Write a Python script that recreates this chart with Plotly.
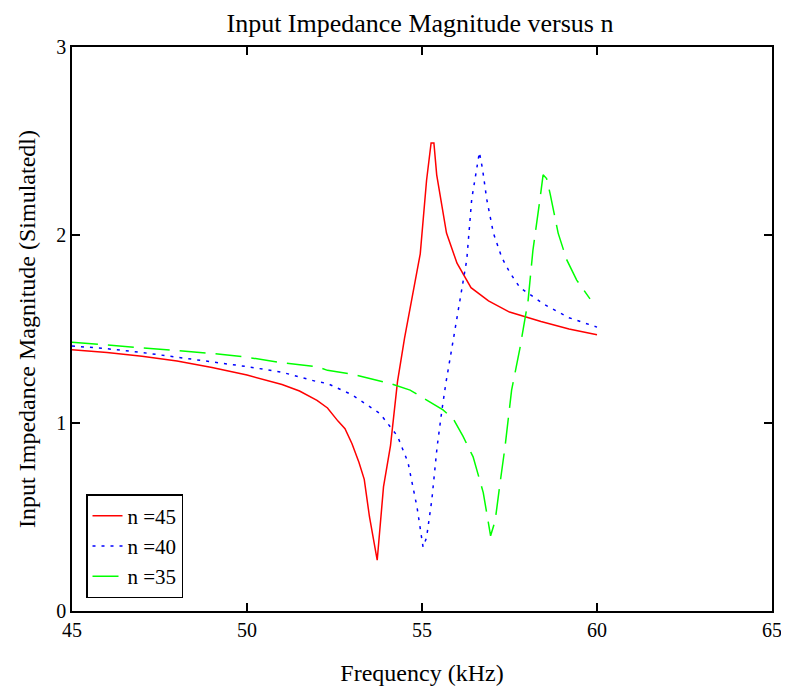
import plotly.graph_objects as go

# n = 45
red_f = [45, 46, 47, 48, 49, 50, 51, 51.5, 52, 52.3, 52.6, 52.8, 53.0, 53.2, 53.35, 53.5, 53.72,
         53.9, 54.1, 54.3, 54.5, 54.7, 54.95, 55.13, 55.26, 55.34, 55.42, 55.7, 56.0, 56.4, 56.9,
         57.5, 58.4, 59.2, 60]
red_v = [1.39, 1.375, 1.355, 1.33, 1.295, 1.255, 1.205, 1.17, 1.12, 1.08, 1.01, 0.97, 0.89, 0.79,
         0.70, 0.50, 0.27, 0.66, 0.88, 1.22, 1.45, 1.65, 1.90, 2.29, 2.49, 2.49, 2.32, 2.01, 1.85,
         1.72, 1.65, 1.59, 1.54, 1.50, 1.47]

# n = 40
blue_f = [45, 46, 47, 48, 49, 50, 51, 52, 52.3, 53, 53.8, 54.3, 54.6, 54.86, 55.03, 55.13, 55.28,
          55.43, 55.57, 55.68, 55.9, 56.09, 56.28, 56.42, 56.56, 56.64, 56.73, 56.85, 57.04, 57.28,
          57.51, 57.8, 58.5, 59.2, 60]
blue_v = [1.41, 1.395, 1.375, 1.35, 1.325, 1.30, 1.27, 1.22, 1.21, 1.15, 1.05, 0.93, 0.79, 0.55,
          0.34, 0.39, 0.59, 0.87, 1.07, 1.21, 1.45, 1.67, 1.87, 2.19, 2.36, 2.44, 2.35, 2.19, 2.01,
          1.88, 1.80, 1.72, 1.63, 1.56, 1.51]

# n = 35
green_f = [45, 46, 47, 48, 49, 50, 51, 52, 52.3, 53, 53.7, 54.1, 54.66, 55.23, 55.6, 55.9, 56.17,
           56.46, 56.75, 56.96, 57.09, 57.23, 57.37, 57.56, 57.8, 58.03, 58.17, 58.37, 58.46, 58.56,
           58.66, 58.89, 59.13, 59.42, 59.8]
green_v = [1.43, 1.415, 1.40, 1.385, 1.37, 1.35, 1.32, 1.30, 1.28, 1.26, 1.23, 1.21, 1.175, 1.11,
           1.07, 1.02, 0.93, 0.82, 0.63, 0.40, 0.48, 0.68, 0.87, 1.175, 1.40, 1.65, 1.92, 2.19,
           2.32, 2.30, 2.22, 2.01, 1.87, 1.76, 1.66]

names = ["n =45", "n =40", "n =35"]
x_ticks = [45, 50, 55, 60, 65]
y_ticks = [0, 1, 2, 3]

FONT = "Liberation Serif"

fig = go.Figure()
series = [(red_f, red_v, "#ff0000", "solid"),
          (blue_f, blue_v, "#0000ff", "3px,6px"),
          (green_f, green_v, "#00ff00", "26px,10px")]
for (f, v, c, d), nm in zip(series, names):
    fig.add_trace(go.Scatter(x=f, y=v, mode="lines", name=nm, legendgroup=nm,
                             line=dict(color=c, width=1.5, dash=d)))

axis_common = dict(showline=True, linecolor="black", linewidth=1.5, mirror="ticks",
                   ticks="inside", ticklen=8, tickwidth=1.5, tickcolor="black",
                   showgrid=False, zeroline=False, automargin=False,
                   tickfont=dict(family=FONT, size=20, color="black"))

fig.update_layout(
    width=781, height=682,
    margin=dict(l=64, r=17, t=39, b=79),
    paper_bgcolor="white", plot_bgcolor="white",
    title=dict(text="Input Impedance Magnitude versus n", x=0.5275, xanchor="center",
               y=0.978, yanchor="middle",
               font=dict(family=FONT, size=26, color="black")),
    xaxis=dict(range=[45, 65], tickvals=x_ticks, ticktext=[str(t) for t in x_ticks],
               title=dict(text="Frequency (kHz)", font=dict(family=FONT, size=24, color="black"),
                          standoff=24),
               **axis_common),
    yaxis=dict(range=[0, 3], tickvals=y_ticks, ticktext=[str(t) for t in y_ticks],
               title=dict(text="Input Impedance Magnitude (Simulatedl)",
                          font=dict(family=FONT, size=24, color="black"), standoff=14),
               **axis_common),
    legend=dict(x=0.02, y=0.023, xanchor="left", yanchor="bottom",
                bordercolor="black", borderwidth=1.5, bgcolor="white",
                font=dict(family=FONT, size=21, color="black"),
                tracegroupgap=0, traceorder="grouped", itemwidth=30),
    showlegend=True,
)

fig.write_html("out.html")
